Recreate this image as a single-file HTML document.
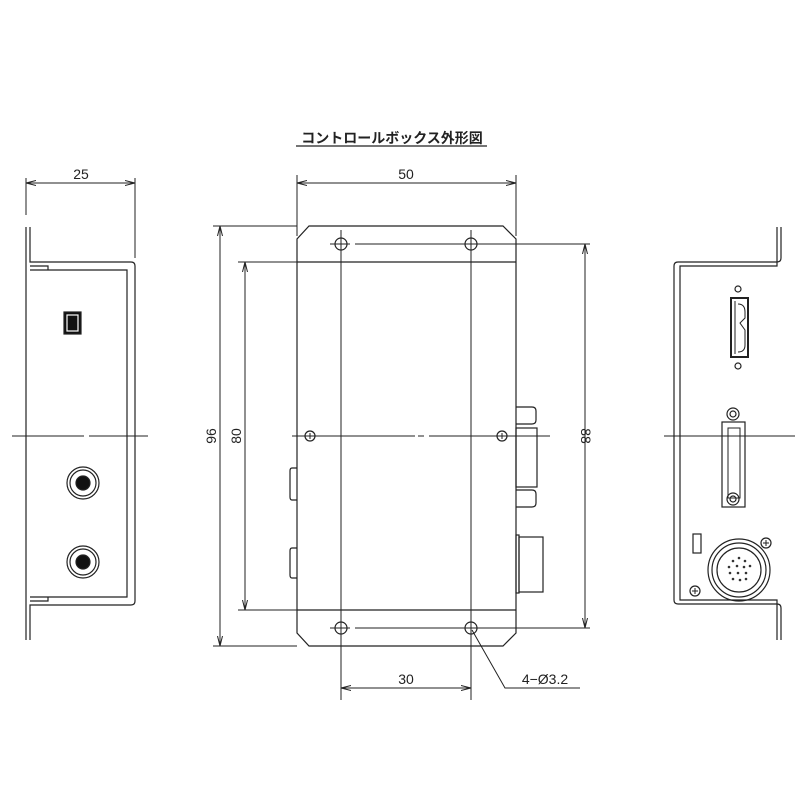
<!DOCTYPE html>
<html><head><meta charset="utf-8"><style>
html,body{margin:0;padding:0;background:#fff;}
svg{display:block;}
text{font-family:"Liberation Sans","Noto Sans CJK JP",sans-serif;fill:#222;}
</style></head><body>
<svg width="800" height="799" viewBox="0 0 800 799" xmlns="http://www.w3.org/2000/svg">
<defs>
<marker id="a" viewBox="0 0 10 6" refX="10" refY="3" markerWidth="10" markerHeight="6" orient="auto-start-reverse" markerUnits="userSpaceOnUse"><path d="M0,0.5 L10,3 L0,5.5" fill="none" stroke="#222" stroke-width="1"/></marker>
</defs>
<g stroke="#222" stroke-width="1.2" fill="none">
<!-- title -->
<line x1="296" y1="146" x2="487" y2="146"/>
<!-- LEFT VIEW -->
<line x1="26" y1="178" x2="26" y2="215" stroke-width="1"/>
<line x1="135" y1="178" x2="135" y2="258" stroke-width="1"/>
<line x1="26" y1="183" x2="135" y2="183" marker-start="url(#a)" marker-end="url(#a)" stroke-width="1"/>
<path d="M26,227 V640 M30,227 V262 H131 Q135,262 135,266 V601 Q135,605 131,605 H30 V640"/>
<path d="M30,270 H127 V597 H30 M30,266 H48 V270 M30,601 H48 V597"/>
<rect x="64" y="312" width="17" height="22" fill="#111"/>
<rect x="67" y="315" width="11" height="16" stroke="#fff" stroke-width="1.2"/>
<circle cx="83" cy="483" r="16"/><circle cx="83" cy="483" r="13"/><circle cx="83" cy="483" r="7" fill="#111"/>
<circle cx="83" cy="562" r="16"/><circle cx="83" cy="562" r="13"/><circle cx="83" cy="562" r="7" fill="#111"/>
<line x1="12" y1="436" x2="84" y2="436" stroke-width="1"/><line x1="89" y1="436" x2="148" y2="436" stroke-width="1"/>
<!-- MAIN VIEW -->
<line x1="297" y1="175" x2="297" y2="236" stroke-width="1"/>
<line x1="516" y1="175" x2="516" y2="236" stroke-width="1"/>
<line x1="297" y1="183" x2="516" y2="183" marker-start="url(#a)" marker-end="url(#a)" stroke-width="1"/>
<path d="M309,226 H503 L516,239 V633 L503,646 H309 L297,633 V239 Z"/>
<line x1="297" y1="262" x2="516" y2="262"/>
<line x1="297" y1="610" x2="516" y2="610"/>
<!-- holes -->
<circle cx="341" cy="244" r="6"/><circle cx="471" cy="244" r="6"/>
<circle cx="341" cy="628" r="6"/><circle cx="471" cy="628" r="6"/>
<g stroke-width="1">
<line x1="341" y1="230" x2="341" y2="700"/><line x1="471" y1="230" x2="471" y2="700"/>
<line x1="330" y1="244" x2="350" y2="244"/><line x1="355" y1="244" x2="590" y2="244"/>
<line x1="330" y1="628" x2="350" y2="628"/><line x1="355" y1="628" x2="590" y2="628"/>
<line x1="213" y1="226" x2="297" y2="226"/>
<line x1="238" y1="262" x2="297" y2="262"/>
<line x1="238" y1="610" x2="297" y2="610"/>
<line x1="213" y1="646" x2="297" y2="646"/>
<line x1="220" y1="226" x2="220" y2="646" marker-start="url(#a)" marker-end="url(#a)"/>
<line x1="245" y1="262" x2="245" y2="610" marker-start="url(#a)" marker-end="url(#a)"/>
<line x1="585" y1="244" x2="585" y2="628" marker-start="url(#a)" marker-end="url(#a)"/>
<line x1="341" y1="688" x2="471" y2="688" marker-start="url(#a)" marker-end="url(#a)"/>
<line x1="292" y1="436" x2="415" y2="436"/><line x1="418" y1="436" x2="424" y2="436"/><line x1="429" y1="436" x2="550" y2="436"/>
<path d="M472,630 L505,688 H580"/>
</g>
<circle cx="310" cy="436" r="5"/><path d="M307,436 H313 M310,433 V439" stroke-width="1"/>
<circle cx="502" cy="436" r="5"/><path d="M499,436 H505 M502,433 V439" stroke-width="1"/>
<!-- right side connectors -->
<path d="M516,407 H532 Q536,407 536,411 V420 Q536,424 532,424 H516"/>
<rect x="516" y="428" width="21" height="59"/>
<path d="M516,490 H532 Q536,490 536,494 V503 Q536,507 532,507 H516"/>
<rect x="516" y="535" width="3" height="58"/>
<rect x="519" y="537" width="24" height="55"/>
<!-- left bumps -->
<path d="M297,468 H292 Q290,468 290,471 V497 Q290,500 292,500 H297"/>
<path d="M297,548 H292 Q290,548 290,551 V575 Q290,578 292,578 H297"/>
<!-- RIGHT VIEW -->
<path d="M781,227 V258 Q781,262 777,262 H678 Q674,262 674,266 V600 Q674,604 678,604 H777 Q781,604 781,608 V640"/>
<path d="M777,227 V266 H680 V600 H777 V640 M680,266 V600"/>
<circle cx="738" cy="289" r="3"/>
<rect x="731" y="298" width="17" height="59" stroke-width="2"/>
<path d="M735,301 V354 M738,304 Q745,304 745,312 V318 L740,323 L745,330 V345 Q745,352 738,352" stroke-width="1"/>
<circle cx="738" cy="366" r="3"/>
<circle cx="733" cy="414" r="6"/><circle cx="733" cy="414" r="3"/>
<rect x="722" y="422" width="23" height="85"/>
<path d="M728,428 H740 V498 H728 Z" stroke-width="1"/>
<circle cx="733" cy="499" r="6"/><circle cx="733" cy="499" r="3"/>
<line x1="664" y1="436" x2="795" y2="436" stroke-width="1"/>
<rect x="693" y="534" width="8" height="19"/>
<circle cx="739" cy="570" r="31"/><circle cx="739" cy="570" r="27"/><circle cx="739" cy="570" r="22"/>
<circle cx="766" cy="543" r="5"/><path d="M763,543 H769 M766,540 V546" stroke-width="1"/>
<circle cx="695" cy="591" r="5"/><path d="M692,591 H698 M695,588 V594" stroke-width="1"/>
</g>
<g fill="#333">
<circle cx="739" cy="558" r="1.3"/><circle cx="733" cy="561" r="1.3"/><circle cx="745" cy="561" r="1.3"/>
<circle cx="729" cy="567" r="1.3"/><circle cx="737" cy="566" r="1.3"/><circle cx="744" cy="567" r="1.3"/><circle cx="750" cy="566" r="1.3"/>
<circle cx="730" cy="573" r="1.3"/><circle cx="738" cy="573" r="1.3"/><circle cx="746" cy="573" r="1.3"/>
<circle cx="733" cy="579" r="1.3"/><circle cx="740" cy="580" r="1.3"/><circle cx="746" cy="579" r="1.3"/>
</g>
<text x="392" y="143" font-size="14" font-weight="bold" text-anchor="middle">コントロールボックス外形図</text>
<text x="81" y="179" font-size="14" text-anchor="middle">25</text>
<text x="406" y="179" font-size="14" text-anchor="middle">50</text>
<text x="406" y="684" font-size="14" text-anchor="middle">30</text>
<text x="545" y="684" font-size="14" text-anchor="middle">4−Ø3.2</text>
<text transform="translate(216,436) rotate(-90)" font-size="14" text-anchor="middle">96</text>
<text transform="translate(241,436) rotate(-90)" font-size="14" text-anchor="middle">80</text>
<text transform="translate(581,436) rotate(90)" font-size="14" text-anchor="middle">88</text>
</svg>
</body></html>
